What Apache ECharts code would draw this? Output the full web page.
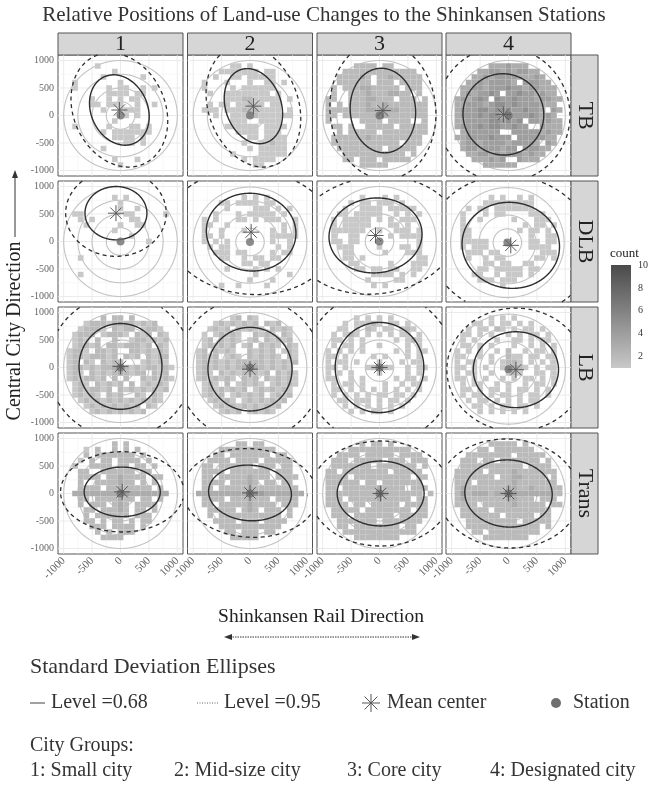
<!DOCTYPE html>
<html><head><meta charset="utf-8">
<script src="https://cdn.jsdelivr.net/npm/echarts@6/dist/echarts.min.js"></script>
<style>html,body{margin:0;padding:0;background:#fff}#c{width:648px;height:787px}</style>
</head><body><div id="c"></div>
<script>
// ---------- data ----------
const cityGroups = ['1', '2', '3', '4'];
const changeTypes = ['TB', 'DLB', 'LB', 'Trans'];
const axisTicks = [-1000, -500, 0, 500, 1000];
const minorTicks = [-750, -250, 250, 750];
const binCenters = [-1000,-900,-800,-700,-600,-500,-400,-300,-200,-100,0,100,200,300,400,500,600,700,800,900,1000];
const ringRadii = [250, 500, 750, 1000];
const countTicks = [2, 4, 6, 8, 10];
// panel order: TB1..TB4, DLB1..DLB4, LB1..LB4, Trans1..Trans4
const meanX = [-20, 60, 60, -90,  -80, 20, -70, 40,   0, 0, 0, 130,   30, 0, 20, 0];
const meanY = [100, 170, 90, 20,  515, 170, 110, -70,  20, -30, 0, -40,  30, 10, 0, 0];
const ell68A = [660, 700, 770, 740,  545, 790, 820, 860,  780, 760, 820, 750,  670, 730, 765, 770];
const ell68B = [500, 490, 575, 710,  485, 705, 680, 780,  730, 740, 780, 690,  450, 505, 590, 610];
const ell68Angle = [112, 108, 95, 100,  0, -8, 6, -10,  90, 90, 90, 0,  0, -4, 0, -4];
const ell95A = [1070, 1135, 1250, 1230,  885, 1500, 1450, 1450,  1300, 1300, 1380, 1215,  1085, 1185, 1240, 1250];
const ell95B = [810, 795, 930, 1170,  785, 1130, 1060, 1260,  1270, 1280, 1330, 1120,  730, 805, 955, 990];
const ell95Angle = [112, 108, 95, 100,  0, -6, 8, -10,  90, 90, 90, 0,  0, -4, 0, -4];
const stationX = [0, 0, 0, 0,  0, 0, 0, -20,  0, 0, 0, 0,  0, 0, 0, 0];
const stationY = [0, 0, 0, 0,  0, -10, 0, -20,  0, 0, 0, -30,  0, 0, 0, 0];

// bin counts: rows from y=1000 (top) to y=-1000, columns x=-1000..1000; '.'=0, 'a'=10
const bins_TB_1 = [
".....................",
"......1..............",
".........1...........",
".......1......1......",
"..1.......1..........",
"..1.....1.11..1.1....",
"........1111.11......",
".....1..1.1.11.......",
".....11.111..1..1....",
".......1..1111.......",
"...........1.1.......",
".........1...........",
"..1.....1...11.1.....",
".......1.1111111.....",
".........1111.1......",
"...........11.1......",
".......1.............",
".....................",
".........1...1.......",
"..........1..........",
"....................."];
const bins_TB_2 = [
".....................",
".......11.1..........",
".....1111111.11......",
"....1..11.11111......",
"..1...1...1..11.1....",
"..1....1.111111......",
"...1..11111111.1.....",
"......1112211111.1...",
"...1.11.11211.11.....",
"..111.1112221111.1...",
"....1..11112111111...",
".......111..1111.....",
"......111111.1111....",
"........1111.111.....",
"..........11.1111....",
".........1..11211....",
"..........1.11111....",
".......1....11111....",
".........1.1111......",
"...........11........",
"....................."];
const bins_TB_3 = [
".....................",
"......2222.22........",
"....2222222222222....",
"...222232.22322222...",
"...222222.222.2222...",
"..2.2223322222.222...",
"..2..22232223322.2...",
".22..22233222.222.2..",
".2.2.22232232222222..",
".222222233333322222..",
".22.222222232222222..",
".2.....2222.2222..2..",
"..22.2..22222.22222..",
"...2.22222.22222222..",
"..2222223222222222...",
"..222222222222.222...",
"...22222222.22222....",
"....22222222222.2....",
"....22.222.22222.....",
".......22222.........",
"....................."];
const bins_TB_4 = [
".....................",
".......3334333.......",
".....33443434433.....",
"....3343444433343....",
"...334344443.44433...",
"..33443444544344333..",
"..3434454.445443433..",
".343454.544544434433.",
".334443455454444333..",
".3444554555445443.43.",
".344454553544454343..",
".334444554545.443433.",
".3444545544544..4333.",
"..3444444..444443433.",
".3344445444.4444433..",
"..34434444344443.43..",
"..3443444344.44433...",
"...33443434443433....",
"....333434..4333.....",
"......333333.........",
"....................."];
const bins_DLB_1 = [
".....................",
".....................",
".........1.1.........",
"..........1..........",
"..........1..1.......",
"..11.......11.....1..",
"...1.1......11.......",
"....1.....1..11......",
".........1...........",
"............1........",
"...............1.....",
".....................",
".....................",
"...1.................",
".....................",
".....................",
"...1.................",
".....................",
".....................",
".....................",
"....................."];
const bins_DLB_2 = [
".....................",
".....................",
".........1.1.1.......",
".....11.1111.11......",
"......1....111.1.1...",
"....1...1.11111.1....",
"..1.1...11.1.111..1..",
"..11..1.........1.1..",
"..1..1...1....1.1.1..",
"..11.1........11111..",
"..1.1.1.......1..1...",
"...1.11........1.1...",
"....111.11....1.11...",
".....11..1.11.11.....",
".........11.11.......",
"......1....1.1.1.....",
"...........1.....1...",
"..........1...1......",
".....1..1....1.......",
".....................",
"....................."];
const bins_DLB_3 = [
".....................",
".....................",
".......1...1.1.......",
".....1.11.111.1......",
"....1..1111.11111....",
"...11.11111..1.1.1...",
"..1.11111.1.1.111....",
"..1.11111...11.1.....",
"..111111..1..111.1...",
"..1..11.....1.1111...",
"..11.11..........1...",
"...111....1...11.1...",
"....11.....1...111...",
"....11.1.........11..",
".....11.....1...111..",
"......11.11.11..11...",
".........1111.1.1....",
"........1....11......",
".........1.1.........",
".....................",
"....................."];
const bins_DLB_4 = [
".....................",
".....................",
".......1.1..1.1......",
"......111111111......",
"...1.11.1111111......",
"..1...1.11....111....",
"..1..1.....1...111...",
"..1..........1.11.1..",
"..11........1.11.1...",
"..11..........1..11..",
"..11111.......11.11..",
"..1.111.......1111...",
"...111.11.......111..",
"...1..1.11.....11.1..",
"......11.11..11......",
".....11.11111.11.....",
"....11..1.111.1......",
".....111.111.........",
".........1...........",
".....................",
"....................."];
const bins_LB_1 = [
".....................",
".......2.22.2........",
"....1222122221212....",
"...12221.2122.1221...",
"..1222.12221.212.21..",
"..121.2..2..1221212..",
"..12212.22122212.21..",
".1221.2212..2212121..",
".122122212.212.2122..",
".12.21.2122...12121..",
".1221212233212122121.",
".121.2121232122.212..",
".1212212.2.2..212121.",
"..121.21212.2.12121..",
"..1212212.212121212..",
"..12121.212..21.21...",
"...121212121212121...",
"....1212121212.21....",
".....1212121212......",
".....................",
"....................."];
const bins_LB_2 = [
".....................",
".......12.21.........",
"....12121212.212.....",
"...1212.21211.2121...",
"..1.12121..2121.21...",
"..12.2121.12.21212...",
"..121212.12.2121.21..",
".12.2121..21212.121..",
".1212.121.212121.21..",
".121212122222121212..",
".12121212333212121...",
".121.212122212.2121..",
".1212121.212.212121..",
"..121.2.12121.12121..",
"..12121212.1212121...",
"..1212.121212.1212...",
"...12121.12121212....",
"....121212121212.....",
".....1212.12121......",
".....................",
"....................."];
const bins_LB_3 = [
".....................",
"......1.1.1.1........",
"....1.11121.11.1.....",
"...11.1.21.11.121....",
"..1.121.1.1.1.11.1...",
"..11.1.1.....1.121...",
"..1.11.1..1....1.1...",
".1.1.1.1.....1.1.11..",
".11.1....1.1...1.1...",
".1.11.1...1...1.11...",
".11.1...12121..1.11..",
".1.1.1....1....1.1...",
".11..1.1.....1.11.1..",
"..1.11.1...1..1.11...",
"..11.1.1.1.1.1.1.1...",
"..1.1.1.1.11.11.1....",
"...11.111.1.11.1.....",
"....1.1.1.1.1.1......",
".....1.1.11.1........",
".....................",
"....................."];
const bins_LB_4 = [
".....................",
".......1.1.1.........",
"....11.1.11.1.1......",
"...1.11.21.1.11.1....",
"..11.1.1..1.1.11.1...",
"..1.1...1..11.1.11...",
"..11.1.1...1..1.1.1..",
".1.1.1..1.2..1.11.1..",
".11..1.1..211.11.11..",
".1.11..1.1221.1.1.1..",
".11.1.1..12321.1.11..",
".1.11..1..121..11.1..",
".11.1.1..1.1.11.1.1..",
"..1.11..1.1..1.11.1..",
"..11.1.11.1.11.1.1...",
"..1.11.1.11.1.11.1...",
"...1.11.1.1.1.11.....",
"....11.1.11.11.1.....",
".....1.1.1.1.1.......",
".....................",
"....................."];
const bins_Trans_1 = [
".....................",
".........2.2.........",
"....1.2..2.2.2.......",
"....2.2222222.2......",
"...1.2.22.2222.2.....",
"..2..2222.22.22.2....",
"...22..222222.22.....",
"...2222.2232222.22...",
"...2..2222322.2.2....",
"...2222.22322222.2...",
"..33333333343333333..",
"...22.2222322.22.2...",
"...2.222.232.2222....",
"....22.22232.22.2....",
"....2.222222.222.....",
"....22.2.22.2.22.....",
".....222.2222.2......",
"......2.2.222........",
".......2222..........",
".....................",
"....................."];
const bins_Trans_2 = [
".....................",
"........22.22........",
".....2222222222......",
"....22.2222222.22....",
"...2222.2222.22222...",
"..22.222222.222.22...",
"..2222.2222222.222...",
"..22.222223222.2222..",
"..2222.22232.22.22...",
"..22.22222322222222..",
".3333333334543333333.",
"..2222.2223222.2222..",
"..22.2222232222.222..",
"...22222.232.222.2...",
"...2.22222222222.2...",
"....2222.222.2222....",
".....22222222222.....",
"......22.222.22......",
".......22222.........",
".....................",
"....................."];
const bins_Trans_3 = [
".....................",
".......2.22.2........",
".....22222222222.....",
"...2222.22222.2222...",
"..222.22222.222.222..",
"..2222222.2222222.2..",
".22.22222222.22222...",
".2222.2222222222.22..",
".222222.22.2222222...",
".22.22222232222.222..",
".22222222233222222.2.",
".222.22222322222.22..",
".2222.22.22222.2222..",
"..22222.22222222.22..",
"..222.2222222.22222..",
"...2222222.2222222...",
"...22.22222222.22....",
"....2222222222222....",
"......22222222.......",
".....................",
"....................."];
const bins_Trans_4 = [
".....................",
".......22222.2.......",
".....22.2222222......",
"...22222222.22222....",
"..222.22.2222222.2...",
"..22222222222.2222...",
".22222.222232222222..",
".2222222.22332222.2..",
".222.22222232222222..",
".2322222223322322222.",
".2423332334433333322.",
".23222222233222.222..",
".2222.22222322222.22.",
"..22222.2222222222...",
"..2222222.22222.22...",
"...222222222.22222...",
"...2222222222222.2...",
"....22.222222222.....",
"......22222222.......",
".....................",
"....................."];
const binTables = [bins_TB_1, bins_TB_2, bins_TB_3, bins_TB_4,
  bins_DLB_1, bins_DLB_2, bins_DLB_3, bins_DLB_4,
  bins_LB_1, bins_LB_2, bins_LB_3, bins_LB_4,
  bins_Trans_1, bins_Trans_2, bins_Trans_3, bins_Trans_4];

// ---------- layout ----------
const FONT = 'Liberation Serif';
const colLeft = [58, 187.5, 317, 446];
const rowTop = [55, 181, 307, 433];
const PW = 125, PH = 121;
const AX = 1100;
const STRIP_H = 22, STRIP_W = 27;

function parseBins(rows) {
  const out = [];
  for (let j = 0; j < binCenters.length; j++) {
    const row = (rows[j] || '');
    for (let i = 0; i < binCenters.length; i++) {
      const ch = row[i] || '.';
      if (ch === '.') continue;
      const v = ch === 'a' ? 10 : parseInt(ch, 10);
      if (!v) continue;
      out.push([binCenters[i], binCenters[binCenters.length - 1 - j], v]);
    }
  }
  return out;
}

// outline of an ellipse, split into runs that stay inside the panel's data window
function ellipseRuns(api, cx, cy, a, b, angDeg) {
  const runs = [];
  let cur = [];
  const t0 = angDeg * Math.PI / 180;
  const ca = Math.cos(t0), sa = Math.sin(t0);
  const N = 480;
  for (let k = 0; k <= N; k++) {
    const t = k / N * Math.PI * 2;
    const u = a * Math.cos(t), v = b * Math.sin(t);
    const x = cx + u * ca - v * sa, y = cy + u * sa + v * ca;
    if (Math.abs(x) <= AX && Math.abs(y) <= AX) {
      cur.push(api.coord([x, y]));
    } else {
      if (cur.length > 1) runs.push(cur);
      cur = [];
    }
  }
  if (cur.length > 1) runs.push(cur);
  if (runs.length > 1) {
    const f = runs[0], l = runs[runs.length - 1];
    const p = f[0], q = l[l.length - 1];
    if (Math.abs(p[0] - q[0]) < 0.01 && Math.abs(p[1] - q[1]) < 0.01) {
      runs[0] = l.concat(f.slice(1));
      runs.pop();
    }
  }
  return runs;
}
const fmt = v => String(v);

const grids = [], xAxes = [], yAxes = [], series = [], binSeriesIdx = [];
for (let r = 0; r < 4; r++) {
  for (let c = 0; c < 4; c++) {
    const k = r * 4 + c;
    grids.push({left: colLeft[c], top: rowTop[r], width: PW, height: PH,
      show: true, borderColor: '#555', borderWidth: 1, backgroundColor: '#fff',
      containLabel: false, outerBoundsMode: 'none'});
    xAxes.push({type: 'value', gridIndex: k, min: -AX, max: AX,
      axisLine: {show: false}, splitLine: {show: false},
      axisTick: {show: r === 3, customValues: axisTicks, length: 3, lineStyle: {color: '#555'}},
      axisLabel: {show: r === 3, customValues: axisTicks, rotate: 45, fontSize: 11, color: '#666',
        fontFamily: FONT, margin: 5, formatter: fmt}});
    yAxes.push({type: 'value', gridIndex: k, min: -AX, max: AX,
      axisLine: {show: false}, splitLine: {show: false},
      axisTick: {show: c === 0, customValues: axisTicks, length: 3, lineStyle: {color: '#555'}},
      axisLabel: {show: c === 0, customValues: axisTicks, fontSize: 10, color: '#666',
        fontFamily: FONT, margin: 4, formatter: fmt}});
    // grid lines
    series.push({type: 'custom', xAxisIndex: k, yAxisIndex: k, silent: true,
      data: axisTicks.map(v => [v, 1]).concat(minorTicks.map(v => [v, 0])),
      renderItem: (params, api) => {
        const v = api.value(0), major = api.value(1);
        const p1 = api.coord([v, -AX]), p2 = api.coord([v, AX]);
        const q1 = api.coord([-AX, v]), q2 = api.coord([AX, v]);
        const st = {stroke: major ? '#e6e6e6' : '#f2f2f2', lineWidth: major ? 0.8 : 0.6};
        return {type: 'group', children: [
          {type: 'line', shape: {x1: p1[0], y1: p1[1], x2: p2[0], y2: p2[1]}, style: st},
          {type: 'line', shape: {x1: q1[0], y1: q1[1], x2: q2[0], y2: q2[1]}, style: st}]};
      }});
    // rings round the station
    series.push({type: 'custom', xAxisIndex: k, yAxisIndex: k, silent: true,
      data: ringRadii.map(R => [stationX[k], stationY[k], R]),
      renderItem: (params, api) => ({type: 'group', children:
        ellipseRuns(api, api.value(0), api.value(1), api.value(2), api.value(2), 0).map(run => ({type: 'polyline',
          shape: {points: run}, style: {fill: 'none', stroke: '#c4c4c4', lineWidth: 1.1}}))})});
    // bins
    binSeriesIdx.push(series.length);
    series.push({type: 'custom', xAxisIndex: k, yAxisIndex: k, silent: true,
      data: parseBins(binTables[k]),
      encode: {x: 0, y: 1},
      renderItem: (params, api) => {
        const x = api.value(0), y = api.value(1);
        const p1 = api.coord([x - 50, y + 50]), p2 = api.coord([x + 50, y - 50]);
        return {type: 'rect', shape: {x: p1[0], y: p1[1], width: p2[0] - p1[0], height: p2[1] - p1[1]},
          style: {fill: api.visual('color')}};
      }});
    // ellipses
    series.push({type: 'custom', xAxisIndex: k, yAxisIndex: k, silent: true,
      data: [[meanX[k], meanY[k], ell68A[k], ell68B[k], ell68Angle[k], 0],
             [meanX[k], meanY[k], ell95A[k], ell95B[k], ell95Angle[k], 1]],
      renderItem: (params, api) => ({type: 'group', children:
        ellipseRuns(api, api.value(0), api.value(1), api.value(2), api.value(3), api.value(4)).map(run => ({type: 'polyline',
          shape: {points: run},
          style: api.value(5) ? {fill: 'none', stroke: '#2e2e2e', lineWidth: 1.3, lineDash: [4, 3.5]}
                              : {fill: 'none', stroke: '#2e2e2e', lineWidth: 1.4}}))})});
    // station
    series.push({type: 'scatter', xAxisIndex: k, yAxisIndex: k, silent: true,
      data: [[stationX[k], stationY[k]]], symbol: 'circle', symbolSize: 8,
      itemStyle: {color: '#6f6f6f'}, z: 5});
    // mean centre asterisk
    series.push({type: 'custom', xAxisIndex: k, yAxisIndex: k, silent: true, z: 6,
      data: [[meanX[k], meanY[k]]],
      renderItem: (params, api) => {
        const p = api.coord([api.value(0), api.value(1)]);
        const L = 8, d = L * 0.7071, ch = [];
        [[L, 0], [0, L], [d, d], [d, -d]].forEach(([dx, dy]) => ch.push({type: 'line',
          shape: {x1: p[0] - dx, y1: p[1] - dy, x2: p[0] + dx, y2: p[1] + dy},
          style: {stroke: '#5a5a5a', lineWidth: 1}}));
        return {type: 'group', children: ch};
      }});
  }
}

// ---------- graphics ----------
const g = [];
g.push({type: 'text', left: 'center', top: 5, style: {text: 'Relative Positions of Land-use Changes to the Shinkansen Stations',
  font: '21px "' + FONT + '"', fill: '#333'}});
cityGroups.forEach((t, c) => {
  g.push({type: 'rect', shape: {x: colLeft[c], y: rowTop[0] - STRIP_H, width: PW, height: STRIP_H}, style: {fill: '#d6d6d6', stroke: '#555', lineWidth: 1}});
  g.push({type: 'text', x: colLeft[c] + PW / 2, y: rowTop[0] - STRIP_H / 2, style: {text: t, font: '22px "' + FONT + '"', fill: '#222', align: 'center', verticalAlign: 'middle'}});
});
changeTypes.forEach((t, r) => {
  g.push({type: 'rect', shape: {x: colLeft[3] + PW, y: rowTop[r], width: STRIP_W, height: PH}, style: {fill: '#d6d6d6', stroke: '#555', lineWidth: 1}});
  g.push({type: 'text', x: colLeft[3] + PW + STRIP_W / 2, y: rowTop[r] + PH / 2, rotation: -Math.PI / 2,
    style: {text: t, font: '22px "' + FONT + '"', fill: '#222', align: 'center', verticalAlign: 'middle'}});
});
// y title + arrow
g.push({type: 'text', x: 15, y: 331, rotation: Math.PI / 2,
  style: {text: 'Central City Direction', font: '20px "' + FONT + '"', fill: '#222', align: 'center', verticalAlign: 'middle'}});
g.push({type: 'line', shape: {x1: 15, y1: 237, x2: 15, y2: 176}, style: {stroke: '#333', lineWidth: 1}});
g.push({type: 'polygon', shape: {points: [[15, 170], [12, 178], [18, 178]]}, style: {fill: '#333'}});
// x title + arrow
g.push({type: 'text', x: 321, y: 617, style: {text: 'Shinkansen Rail Direction', font: '19.5px "' + FONT + '"', fill: '#222', align: 'center', verticalAlign: 'middle'}});
g.push({type: 'line', shape: {x1: 230, y1: 637, x2: 414, y2: 637}, style: {stroke: '#333', lineWidth: 1, lineDash: [1.5, 1]}});
g.push({type: 'polygon', shape: {points: [[224, 637], [232, 634], [232, 640]]}, style: {fill: '#333'}});
g.push({type: 'polygon', shape: {points: [[420, 637], [412, 634], [412, 640]]}, style: {fill: '#333'}});
// colour bar
const cbX = 611, cbTop = 265, cbH = 103, cbW = 20;
g.push({type: 'text', x: 610, y: 254, style: {text: 'count', font: '13px "' + FONT + '"', fill: '#222', verticalAlign: 'middle'}});
g.push({type: 'rect', shape: {x: cbX, y: cbTop, width: cbW, height: cbH},
  style: {fill: new echarts.graphic.LinearGradient(0, 0, 0, 1, [{offset: 0, color: '#4a4a4a'}, {offset: 1, color: '#c8c8c8'}])}});
countTicks.forEach(v => {
  const y = cbTop + cbH - (v - 1) / 9 * cbH;
  g.push({type: 'text', x: 638, y: y, style: {text: String(v), font: '10px "' + FONT + '"', fill: '#333', verticalAlign: 'middle'}});
});
// legend
const LF = '20px "' + FONT + '"';
g.push({type: 'text', x: 30, y: 667, style: {text: 'Standard Deviation Ellipses', font: '22px "' + FONT + '"', fill: '#333', verticalAlign: 'middle'}});
g.push({type: 'line', shape: {x1: 30, y1: 703, x2: 45, y2: 703}, style: {stroke: '#444', lineWidth: 1}});
g.push({type: 'text', x: 51, y: 703, style: {text: 'Level =0.68', font: LF, fill: '#333', verticalAlign: 'middle'}});
g.push({type: 'line', shape: {x1: 197, y1: 703, x2: 218, y2: 703}, style: {stroke: '#666', lineWidth: 1, lineDash: [1, 1.5]}});
g.push({type: 'text', x: 224, y: 703, style: {text: 'Level =0.95', font: LF, fill: '#333', verticalAlign: 'middle'}});
[[9, 0], [0, 9], [6.4, 6.4], [6.4, -6.4]].forEach(([dx, dy]) => g.push({type: 'line',
  shape: {x1: 371 - dx, y1: 703 - dy, x2: 371 + dx, y2: 703 + dy}, style: {stroke: '#555', lineWidth: 1}}));
g.push({type: 'text', x: 387, y: 703, style: {text: 'Mean center', font: LF, fill: '#333', verticalAlign: 'middle'}});
g.push({type: 'circle', shape: {cx: 556, cy: 703, r: 5}, style: {fill: '#6f6f6f'}});
g.push({type: 'text', x: 573, y: 703, style: {text: 'Station', font: LF, fill: '#333', verticalAlign: 'middle'}});
g.push({type: 'text', x: 30, y: 746, style: {text: 'City Groups:', font: LF, fill: '#333', verticalAlign: 'middle'}});
g.push({type: 'text', x: 30, y: 771, style: {text: '1: Small city', font: LF, fill: '#333', verticalAlign: 'middle'}});
g.push({type: 'text', x: 174, y: 771, style: {text: '2: Mid-size city', font: LF, fill: '#333', verticalAlign: 'middle'}});
g.push({type: 'text', x: 347, y: 771, style: {text: '3: Core city', font: LF, fill: '#333', verticalAlign: 'middle'}});
g.push({type: 'text', x: 490, y: 771, style: {text: '4: Designated city', font: LF, fill: '#333', verticalAlign: 'middle'}});

const chart = echarts.init(document.getElementById('c'), null, {renderer: 'canvas'});
chart.setOption({
  animation: false,
  backgroundColor: '#fff',
  grid: grids, xAxis: xAxes, yAxis: yAxes,
  visualMap: {show: false, type: 'continuous', min: 1, max: 10, dimension: 2, seriesIndex: binSeriesIdx,
    inRange: {color: ['#c8c8c8', '#4a4a4a']}},
  series: series,
  graphic: g
});
</script></body></html>
